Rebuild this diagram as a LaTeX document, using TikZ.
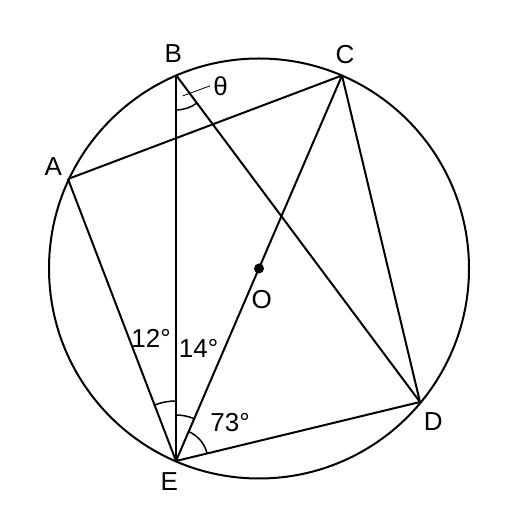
\documentclass[tikz,border=0pt]{standalone}
\usepackage{fontspec}
\setmainfont{Liberation Sans}
\usetikzlibrary{angles}

\tikzset{
  lbl/.style = {font=\fontsize{26}{31}\selectfont, inner sep=0pt},
  chord/.style = {line width=2pt, color = black},
  anglemark/.style = {line width=1.5pt, color = black},
}

\begin{document}
\begin{tikzpicture}[x=1pt, y=1pt, line join=round]
    \useasboundingbox (0,0) rectangle (511,532);
    % centre and points on the circle
    \coordinate (O) at (259, 263.5);
    \coordinate (A) at (68, 353);
    \coordinate (B) at (176, 457);
    \coordinate (C) at (342, 456.5);
    \coordinate (D) at (420, 130);
    \coordinate (E) at (176, 71);

    \draw[chord] (O) circle[radius=210];
    \draw[chord] (A) -- (C);
    \draw[chord] (A) -- (E);
    \draw[chord] (B) -- (E);
    \draw[chord] (B) -- (D);
    \draw[chord] (C) -- (E);
    \draw[chord] (C) -- (D);
    \draw[chord] (E) -- (D);
    \fill (O) circle[radius=5];

    % angle marks
    \pic[draw, anglemark, angle radius=35pt] {angle = E--B--D};
    \pic[draw, anglemark, angle radius=60pt] {angle = B--E--A};
    \pic[draw, anglemark, angle radius=46pt] {angle = C--E--B};
    \pic[draw, anglemark, angle radius=32pt] {angle = D--E--C};

    % labels
    \node[lbl] (lblA) at (53.3, 365.3) {A};
    \node[lbl] (lblB) at (173.3, 478.7) {B};
    \node[lbl] (lblC) at (345, 477) {C};
    \node[lbl] (lblD) at (433.3, 110.3) {D};
    \node[lbl] (lblE) at (169.3, 50.3) {E};
    \node[lbl] (lblO) at (261.7, 232) {O};
    \node[lbl] (ang12) at (151, 194) {12°};
    \node[lbl] (ang14) at (198.5, 184) {14°};
    \node[lbl] (ang73) at (230, 109.5) {73°};
    \node[lbl] (theta) at (220.5, 446.2) {θ};
    \coordinate (thetapt) at ([shift={(-72:22)}]B);
    \draw[line width=0.8pt] (thetapt) -- ([xshift=-3pt]theta.west);
\end{tikzpicture}
\end{document}
